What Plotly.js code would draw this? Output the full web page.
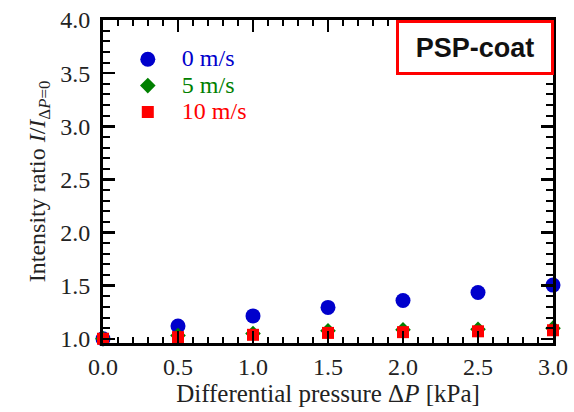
<!DOCTYPE html>
<html><head><meta charset="utf-8">
<script src="https://cdn.plot.ly/plotly-3.0.1.min.js"></script>
<style>html,body{margin:0;padding:0;background:#fff}#chart{width:574px;height:412px}</style>
</head><body><div id="chart"></div>
<script>
const dp = [0.0, 0.5, 1.0, 1.5, 2.0, 2.5, 3.0];
const ratio0 = [1.00, 1.12, 1.215, 1.295, 1.36, 1.435, 1.505];
const ratio5 = [1.00, 1.03, 1.05, 1.075, 1.085, 1.09, 1.10];
const ratio10 = [1.00, 1.015, 1.037, 1.055, 1.062, 1.07, 1.08];
const names = ['0 m/s', '5 m/s', '10 m/s'];
const colors = ['#0000cc', '#008000', '#ff0000'];
const symbols = ['circle', 'diamond', 'square'];
const sizes = [15, 12, 12];
const series = [ratio0, ratio5, ratio10];

const traces = series.map((s, i) => ({
  x: dp, y: s, type: 'scatter', mode: 'markers', cliponaxis: false,
  name: '<span style="color:' + colors[i] + ';font-size:24px">' + names[i] + '</span>',
  marker: {color: colors[i], symbol: symbols[i], size: sizes[i]}
}));

const font = {family: 'Liberation Serif, Times New Roman, serif', size: 24, color: '#222'};
const axBase = {
  showgrid: false, zeroline: false, showline: true, linecolor: '#000', linewidth: 3,
  mirror: 'allticks', ticks: 'inside', ticklen: 12, tickwidth: 2.5, tickcolor: '#000',
  tickfont: font
};
const layout = {
  width: 574, height: 412,
  margin: {l: 103, r: 21, t: 20, b: 69},
  paper_bgcolor: '#fff', plot_bgcolor: '#fff',
  font: font,
  showlegend: true,
  legend: {x: 0.024, y: 0.935, xanchor: 'left', yanchor: 'top', bgcolor: 'rgba(0,0,0,0)',
    font: {family: 'Liberation Serif, Times New Roman, serif', size: 18}, tracegroupgap: 0,
    itemwidth: 58},
  xaxis: Object.assign({}, axBase, {
    range: [0, 3], tickvals: [0, 0.5, 1, 1.5, 2, 2.5, 3], ticktext: ['0.0','0.5','1.0','1.5','2.0','2.5','3.0'],
    minor: {dtick: 0.1, ticks: 'inside', ticklen: 6, tickwidth: 2, tickcolor: '#000'},
    title: {text: 'Differential pressure Δ<i>P</i> [kPa]', font: Object.assign({}, font, {size: 25}), standoff: 6}
  }),
  yaxis: Object.assign({}, axBase, {
    range: [0.96, 4.0], tickvals: [1, 1.5, 2, 2.5, 3, 3.5, 4], ticktext: ['1.0','1.5','2.0','2.5','3.0','3.5','4.0'],
    ticklabelstandoff: 5,
    minor: {dtick: 0.1, tick0: 0, ticks: 'inside', ticklen: 7, tickwidth: 2, tickcolor: '#000'},
    title: {text: 'Intensity ratio <i>I</i>/<i>I</i><sub>Δ<i>P</i>=0</sub>', font: font, standoff: 8}
  }),
  annotations: [{
    xref: 'paper', yref: 'paper', x: 1.002, y: 1.0, xanchor: 'right', yanchor: 'top',
    text: '<b>PSP-coat</b>', showarrow: false,
    font: {family: 'Liberation Sans, Arial, sans-serif', size: 27, color: '#111'},
    bgcolor: '#fff', bordercolor: '#ff0000', borderwidth: 3, borderpad: 0,
    width: 152, height: 49
  }]
};
Plotly.newPlot('chart', traces, layout, {displayModeBar: false, staticPlot: true});
</script></body></html>
